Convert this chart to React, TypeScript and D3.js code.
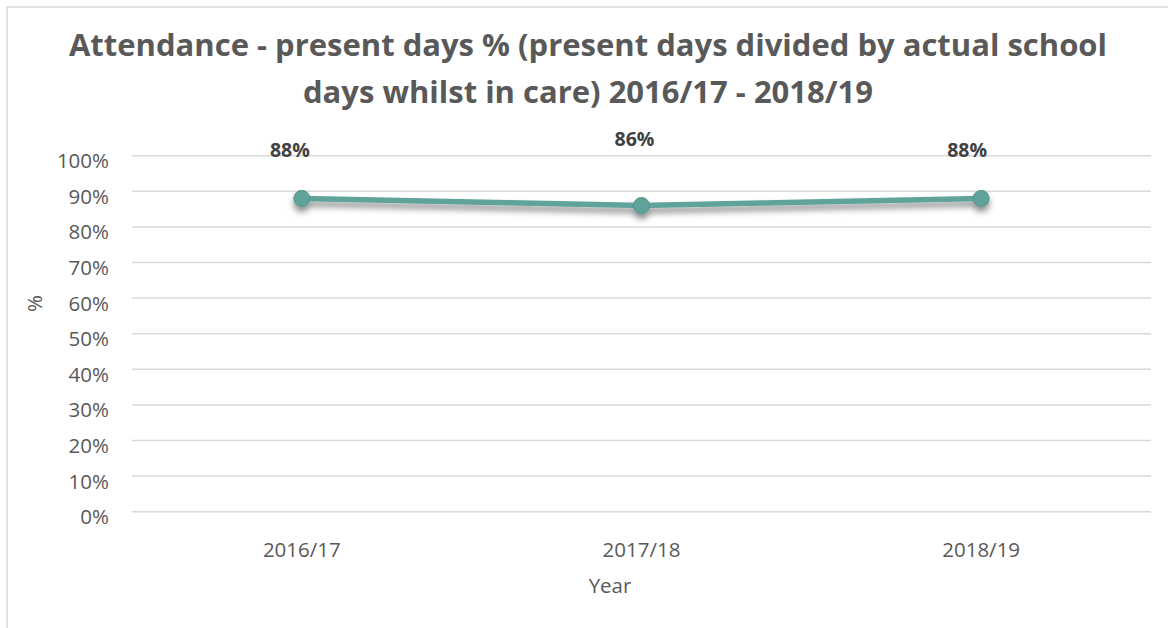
import React from "react";
import * as d3 from "d3";

const categories = ["2016/17", "2017/18", "2018/19"];
const values = [0.88, 0.86, 0.88];
const yTicks = [0, 0.1, 0.2, 0.3, 0.4, 0.5, 0.6, 0.7, 0.8, 0.9, 1.0];
const titleLines = [
  "Attendance - present days % (present days divided by actual school",
  "days whilst in care) 2016/17 - 2018/19",
];
const xTitle = "Year";
const yTitle = "%";
// manual label placement offsets (pixels) relative to each point
const labelOffsets = [
  { dx: -12, dy: -41 },
  { dx: -7, dy: -60 },
  { dx: -14, dy: -41 },
];

const W = 1168;
const H = 628;
const FONT = "'Open Sans', 'DejaVu Sans', sans-serif";

export default function App() {
  const x = d3.scaleBand<string>().domain(categories).range([132, 1151]);
  const y = d3.scaleLinear().domain([0, 1]).range([511.7, 155.7]);
  const cx = (c: string) => (x(c) as number) + x.bandwidth() / 2;
  const pts = categories.map((c, i) => [cx(c), y(values[i])] as [number, number]);
  const line = d3.line<[number, number]>().x((d) => d[0]).y((d) => d[1]);
  const fmt = d3.format(".0%");

  return (
    <svg
      width={W}
      height={H}
      style={{ position: "absolute", left: 0, top: 0, background: "#fff" }}
      fontFamily={FONT}
    >
      <defs>
        <filter id="shadow" x="-10%" y="-200%" width="120%" height="500%">
          <feDropShadow dx="0" dy="5" stdDeviation="3" floodColor="#000" floodOpacity="0.45" />
        </filter>
      </defs>
      <rect x={0} y={0} width={W} height={H} fill="#fff" />
      <rect x={7} y={7} width={W + 20} height={H + 20} fill="none" stroke="#d9d9d9" strokeWidth={1.5} />

      {titleLines.map((t, i) => (
        <text
          key={i}
          x={588}
          y={56 + i * 47}
          textAnchor="middle"
          fontSize={31}
          fontWeight="bold"
          fill="#595959"
        >
          {t}
        </text>
      ))}

      {yTicks.map((t) => (
        <g key={t}>
          <line x1={132} x2={1151} y1={y(t)} y2={y(t)} stroke="#d9d9d9" strokeWidth={1.5} />
          <text x={109} y={y(t) + 12.5} textAnchor="end" fontSize={20.5} fill="#595959">
            {fmt(t)}
          </text>
        </g>
      ))}

      {categories.map((c) => (
        <text key={c} x={cx(c)} y={557} textAnchor="middle" fontSize={20.5} fill="#595959">
          {c}
        </text>
      ))}

      <text x={610} y={593} textAnchor="middle" fontSize={20.5} fill="#595959">
        {xTitle}
      </text>
      <text
        transform={`translate(42,303.5) rotate(-90)`}
        textAnchor="middle"
        fontSize={20.5}
        fill="#595959"
      >
        {yTitle}
      </text>

      <g filter="url(#shadow)">
        <path d={line(pts) || ""} fill="none" stroke="#5fa39b" strokeWidth={5.5} strokeLinejoin="round" strokeLinecap="round" />
        {pts.map((p, i) => (
          <circle key={i} cx={p[0]} cy={p[1]} r={8} fill="#5fa39b" stroke="#4f9189" strokeWidth={1} />
        ))}
      </g>

      {pts.map((p, i) => (
        <text
          key={i}
          x={p[0] + labelOffsets[i].dx}
          y={p[1] + labelOffsets[i].dy}
          textAnchor="middle"
          fontSize={19.5}
          fontWeight="bold"
          fill="#404040"
        >
          {fmt(values[i])}
        </text>
      ))}
    </svg>
  );
}
